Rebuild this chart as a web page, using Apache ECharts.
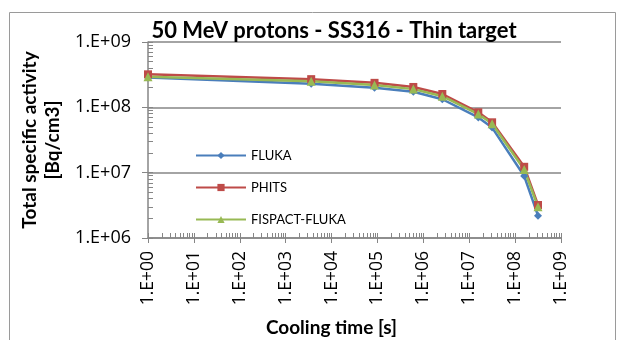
<!DOCTYPE html>
<html>
<head>
<meta charset="utf-8">
<script src="https://cdn.jsdelivr.net/npm/echarts@6/dist/echarts.min.js"></script>
<style>
  html, body { margin: 0; padding: 0; background: #fff; }
  #chart { width: 624px; height: 340px; }
</style>
</head>
<body>
<div id="chart"></div>
<script>
// cooling times [s] : 1 s, 1 h, 1 d, 7 d, 30 d, 0.5 y, 1 y, 5 y, 10 y
var coolingTimes = [1, 3600, 86400, 604800, 2592000, 15768000, 31536000, 157680000, 315360000];
var seriesNames = ['FLUKA', 'PHITS', 'FISPACT-FLUKA'];
var flukaActivity = [2.85e8, 2.3e8, 2.0e8, 1.73e8, 1.33e8, 7.0e7, 4.9e7, 8.9e6, 2.2e6];
var phitsActivity = [3.2e8, 2.7e8, 2.37e8, 2.05e8, 1.6e8, 8.4e7, 5.9e7, 1.23e7, 3.2e6];
var fispactActivity = [2.95e8, 2.5e8, 2.2e8, 1.9e8, 1.48e8, 7.9e7, 5.6e7, 1.12e7, 3.0e6];

var FONT = 'Lato';
var TICK_FONT = 'Open Sans';
var AXIS_GREY = '#868686';

// Excel style "1.E+09"
function sciLabel(v) {
    var e = Math.round(Math.log10(v));
    return '1.E+' + (e < 10 ? '0' + e : '' + e);
}

function pairs(ys) {
    return coolingTimes.map(function (t, i) { return [t, ys[i]]; });
}

// tick positions (in decades) for the inside minor ticks, Excel look
function logTickPos(fromDec, toDec) {
    var out = [];
    for (var d = fromDec; d < toDec; d++) {
        for (var k = 1; k <= 9; k++) out.push(d + Math.log10(k));
    }
    out.push(toDec);
    return out;
}

var chart = echarts.init(document.getElementById('chart'));

function mkSeries(name, data, color, symbol, size) {
    return {
        name: name,
        type: 'line',
        data: pairs(data),
        symbol: symbol,
        symbolSize: size,
        showSymbol: true,
        lineStyle: { color: color, width: 2.5 },
        itemStyle: { color: color },
        animation: false
    };
}

var option = {
    backgroundColor: '#fff',
    graphic: [{
        type: 'rect',
        shape: { x: 9.5, y: 12.5, width: 606, height: 340 },
        style: { fill: 'none', stroke: '#9a9a9a', lineWidth: 1 },
        silent: true
    }],
    title: {
        text: '50 MeV protons - SS316 - Thin target',
        left: 329,
        top: 15,
        textAlign: 'center',
        textStyle: { fontFamily: FONT, fontWeight: 'bold', fontSize: 22, color: '#000' }
    },
    legend: {
        orient: 'vertical',
        left: 190,
        top: 144,
        itemWidth: 50,
        itemHeight: 9,
        itemGap: 19,
        data: seriesNames,
        textStyle: { fontFamily: FONT, fontSize: 13, color: '#000' }
    },
    grid: { left: 148, right: 63, top: 42, bottom: 102, containLabel: false, outerBoundsMode: 'none' },
    xAxis: [{
        type: 'log',
        logBase: 10,
        min: 1,
        max: 1e9,
        interval: 1,
        name: 'Cooling time [s]',
        nameLocation: 'middle',
        nameGap: 80,
        nameTextStyle: { fontFamily: FONT, fontWeight: 'bold', fontSize: 19, color: '#000', padding: [0, 46, 0, 0] },
        axisLine: { lineStyle: { color: AXIS_GREY, width: 1.5 } },
        axisTick: { length: 5, lineStyle: { color: AXIS_GREY } },
        splitLine: { show: false },
        axisLabel: {
            rotate: 90,
            margin: 13,
            fontFamily: TICK_FONT,
            fontSize: 17.5,
            color: '#000',
            formatter: sciLabel
        }
    }, {
        // decoration only: inside major/minor ticks in decade space
        type: 'value',
        position: 'bottom',
        min: 0,
        max: 9,
        axisLine: { show: false },
        axisLabel: { show: false },
        splitLine: { show: false },
        axisTick: { show: true, inside: true, length: 5, customValues: logTickPos(0, 9), lineStyle: { color: AXIS_GREY } }
    }],
    yAxis: [{
        type: 'log',
        logBase: 10,
        min: 1e6,
        max: 1e9,
        interval: 1,
        name: 'Total specific activity\n[Bq/cm3]',
        nameLocation: 'middle',
        nameGap: 84,
        nameTextStyle: { fontFamily: FONT, fontWeight: 'bold', fontSize: 19, color: '#000', lineHeight: 23 },
        axisLine: { show: true, lineStyle: { color: AXIS_GREY, width: 1.5 } },
        axisTick: { show: true, length: 6, lineStyle: { color: AXIS_GREY } },
        splitLine: { show: true, lineStyle: { color: AXIS_GREY, width: 1.5 } },
        axisLabel: {
            margin: 17,
            fontFamily: TICK_FONT,
            fontSize: 18,
            color: '#000',
            formatter: sciLabel
        }
    }, {
        type: 'value',
        position: 'left',
        min: 6,
        max: 9,
        axisLine: { show: false },
        axisLabel: { show: false },
        splitLine: { show: false },
        axisTick: { show: true, inside: true, length: 5, customValues: logTickPos(6, 9), lineStyle: { color: AXIS_GREY } }
    }],
    series: [
        mkSeries('FLUKA', flukaActivity, '#4A7EBB', 'diamond', 8),
        mkSeries('PHITS', phitsActivity, '#BE4B48', 'rect', 8),
        mkSeries('FISPACT-FLUKA', fispactActivity, '#98B954', 'triangle', 9)
    ]
};

chart.setOption(option);
</script>
</body>
</html>
